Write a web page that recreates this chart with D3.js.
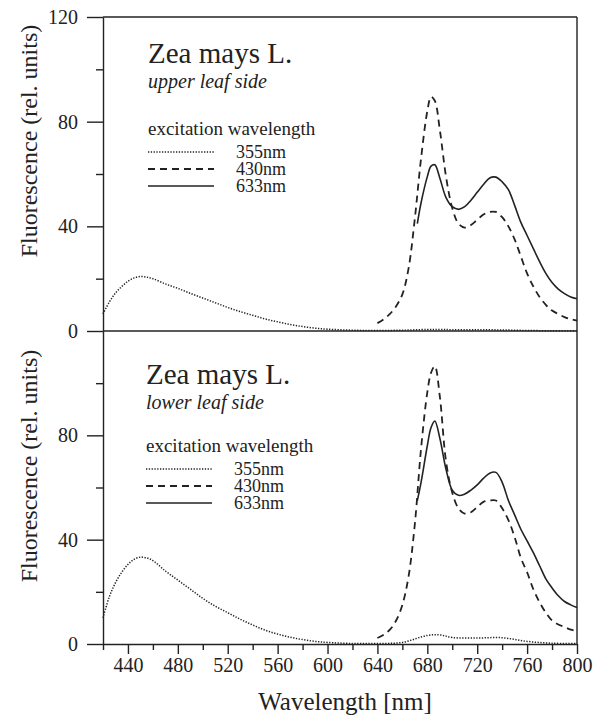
<!DOCTYPE html>
<html>
<head>
<meta charset="utf-8">
<script src="https://cdn.jsdelivr.net/npm/d3@7"></script>
<style>
  body { margin: 0; background: #fff; }
  svg text { font-family: "Liberation Serif", "Times New Roman", serif; fill: #222; }
</style>
</head>
<body>
<div class="Chart"></div>
<script>
// Wavelength grids (nm)
const wl355 = [420, 425, 430, 435, 440, 445, 450, 455, 460, 470, 480, 490, 500, 510, 520, 530, 540, 550, 560, 570, 580, 590, 600, 620, 640, 660, 680, 690, 700, 720, 740, 760, 780, 800];
const wl430 = [640, 645, 650, 655, 660, 665, 670, 675, 680, 683, 686, 690, 695, 700, 705, 710, 715, 720, 725, 730, 735, 740, 745, 750, 755, 760, 765, 770, 775, 780, 785, 790, 795, 800];
const wl633 = [672, 675, 680, 683, 686, 690, 695, 700, 705, 710, 715, 720, 725, 730, 735, 740, 745, 750, 755, 760, 765, 770, 775, 780, 785, 790, 795, 800];

// Upper leaf side
const upper355 = [6.5, 11, 14.5, 17, 19, 20.3, 20.8, 20.6, 20, 18, 16.3, 14.4, 12.6, 10.8, 9, 7.4, 6, 4.6, 3.5, 2.5, 1.7, 1.1, 0.7, 0.3, 0.2, 0.3, 0.6, 0.6, 0.5, 0.5, 0.4, 0.2, 0.1, 0.1];
const upper430 = [3, 4.5, 6.5, 9.5, 14, 24, 43, 66, 84, 89.5, 88, 77, 59, 47, 41, 39.5, 40.5, 42.5, 44.5, 45.5, 45.5, 43.5, 40, 35, 28.5, 22, 17, 13, 10, 7.8, 6.5, 5.3, 4.5, 4];
const upper633 = [41, 49, 59, 63, 63.5, 58.5, 51, 47.5, 46.5, 47.5, 50, 53, 56, 58.5, 58.8, 57, 54, 48, 41.5, 36.5, 31.5, 26.5, 22, 18.5, 16, 14.3, 13, 12.3];

// Lower leaf side
const lower355 = [10, 18, 23.5, 27.5, 30.5, 32.5, 33.3, 33, 32, 28, 24.5, 21, 17.5, 14.5, 12, 9.5, 7.3, 5.3, 3.8, 2.6, 1.7, 1, 0.6, 0.2, 0.2, 0.6, 3.3, 3.5, 2.5, 2.3, 2.4, 1, 0.3, 0.2];
const lower430 = [2.3, 3.5, 5.5, 9, 15, 26, 46, 75, 96.5, 104, 106.5, 95, 70, 58, 52, 50, 50.5, 52.5, 54.5, 55, 55, 52, 47.5, 41, 33, 27.5, 21, 16, 12, 9, 7.5, 6.5, 5.5, 5];
const lower633 = [55, 62, 76, 83, 85.5, 79, 67, 59, 57, 57.5, 59, 61, 63.5, 65.5, 65.8, 62, 55, 49.5, 44, 39.5, 35, 30, 25, 21.5, 18.5, 16.3, 15, 14];

// Axis ticks and labels
const xMajor = [440, 480, 520, 560, 600, 640, 680, 720, 760, 800];
const xMinor = [420, 460, 500, 540, 580, 620, 660, 700, 740, 780];
const yMajorTop = [0, 40, 80, 120];
const yMajorBottom = [0, 40, 80];
const yMinor = [20, 60, 100];
const excitations = ["355nm", "430nm", "633nm"];
const panelNames = ["upper leaf side", "lower leaf side"];

const WIDTH = 597, HEIGHT = 718;
const INK = "#222";

const svg = d3.select(".Chart").append("svg")
  .attr("width", WIDTH).attr("height", HEIGHT);

const xScale = d3.scaleLinear().domain([420, 800]).range([103, 577]);
const yTop = d3.scaleLinear().domain([0, 120]).range([331, 17]);
const yBottom = d3.scaleLinear().domain([0, 120]).range([644, 331]);

const styles = [
  { dash: "1.3,1.5", width: 1.5 },
  { dash: "7,5", width: 1.8 },
  { dash: null, width: 1.6 }
];

function drawPanel(yScale, wls, values, majors, name, textTop, legend, labelY) {
  const line = d3.line()
    .x((d) => xScale(d[0]))
    .y((d) => yScale(d[1]))
    .curve(d3.curveCatmullRom.alpha(0.5));

  values.forEach((vals, i) => {
    const pts = wls[i].map((w, j) => [w, vals[j]]);
    svg.append("path")
      .attr("d", line(pts))
      .attr("fill", "none")
      .attr("stroke", INK)
      .attr("stroke-width", styles[i].width)
      .attr("stroke-dasharray", styles[i].dash);
  });

  // y axis
  const yAx = svg.append("g").attr("transform", `translate(${xScale(420)},0)`)
    .call(d3.axisLeft(yScale).tickValues(majors).tickSize(16).tickSizeOuter(0).tickPadding(9).tickFormat(d3.format("d")));
  yAx.selectAll("text").style("font-size", "20px").attr("fill", INK);
  yAx.selectAll("line, path").attr("stroke", INK).attr("stroke-width", 1.4);

  const yMin = svg.append("g").attr("transform", `translate(${xScale(420)},0)`)
    .call(d3.axisLeft(yScale).tickValues(yMinor).tickSize(7).tickFormat(""));
  yMin.select(".domain").remove();
  yMin.selectAll("line").attr("stroke", INK).attr("stroke-width", 1.4);

  // titles
  const g = svg.append("g");
  g.append("text").attr("x", textTop.x).attr("y", textTop.y)
    .style("font-size", "29px").text("Zea mays L.");
  g.append("text").attr("x", textTop.x).attr("y", textTop.y + 25)
    .style("font-size", "20px").style("font-style", "italic").text(name);
  g.append("text").attr("x", textTop.x).attr("y", legend.y0 - 17)
    .style("font-size", "19px").text("excitation wavelength");

  excitations.forEach((lab, i) => {
    const ly = legend.y0 + i * legend.step;
    g.append("line")
      .attr("x1", textTop.x).attr("x2", textTop.x + 66)
      .attr("y1", ly).attr("y2", ly)
      .attr("stroke", INK)
      .attr("stroke-width", styles[i].width)
      .attr("stroke-dasharray", styles[i].dash);
    g.append("text").attr("x", textTop.x + 88).attr("y", ly + 6)
      .style("font-size", "18px").text(lab);
  });

  // y axis title
  svg.append("text")
    .attr("transform", `translate(37,${labelY}) rotate(-90)`)
    .attr("text-anchor", "middle")
    .style("font-size", "24px")
    .text("Fluorescence (rel. units)");
}

drawPanel(yTop, [wl355, wl430, wl633], [upper355, upper430, upper633], yMajorTop,
  panelNames[0], { x: 148, y: 63 }, { y0: 152, step: 17 }, 141);
drawPanel(yBottom, [wl355, wl430, wl633], [lower355, lower430, lower633], yMajorBottom,
  panelNames[1], { x: 146, y: 384 }, { y0: 469, step: 17 }, 466);

// frame: top border, panel divider, right border
svg.append("line").attr("x1", xScale(420)).attr("x2", xScale(800))
  .attr("y1", yTop(120)).attr("y2", yTop(120)).attr("stroke", INK).attr("stroke-width", 1.4);
svg.append("line").attr("x1", xScale(420)).attr("x2", xScale(800))
  .attr("y1", yTop(0)).attr("y2", yTop(0)).attr("stroke", INK).attr("stroke-width", 1.4);
svg.append("line").attr("x1", xScale(800)).attr("x2", xScale(800))
  .attr("y1", yTop(120)).attr("y2", yBottom(0)).attr("stroke", INK).attr("stroke-width", 1.4);

// x axis
const xAx = svg.append("g").attr("transform", `translate(0,${yBottom(0)})`)
  .call(d3.axisBottom(xScale).tickValues(xMajor).tickSize(10).tickSizeOuter(0).tickPadding(4));
xAx.selectAll("text").style("font-size", "20px").attr("fill", INK);
xAx.selectAll("line, path").attr("stroke", INK).attr("stroke-width", 1.4);

const xMin = svg.append("g").attr("transform", `translate(0,${yBottom(0)})`)
  .call(d3.axisBottom(xScale).tickValues(xMinor).tickSize(6).tickFormat(""));
xMin.select(".domain").remove();
xMin.selectAll("line").attr("stroke", INK).attr("stroke-width", 1.4);

svg.append("text")
  .attr("x", (xScale(420) + xScale(800)) / 2 + 5)
  .attr("y", 710)
  .attr("text-anchor", "middle")
  .style("font-size", "25px")
  .text("Wavelength [nm]");
</script>
</body>
</html>
